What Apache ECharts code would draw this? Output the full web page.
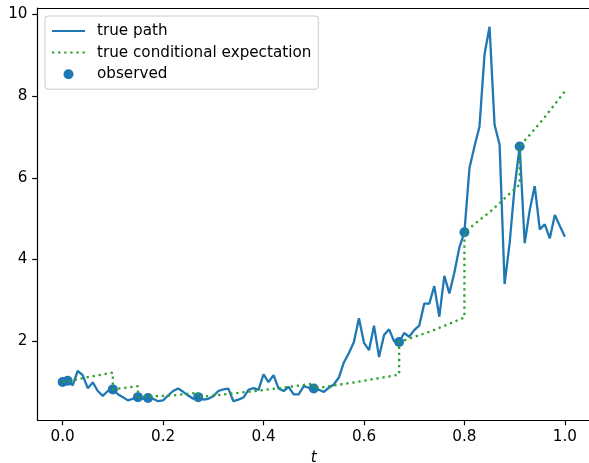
<!DOCTYPE html>
<html>
<head>
<meta charset="utf-8">
<script src="https://cdn.jsdelivr.net/npm/echarts@6/dist/echarts.min.js"></script>
<style>
html,body{margin:0;padding:0;background:#fff;overflow:hidden;}
#chart{width:640px;height:463px;}
</style>
</head>
<body>
<div id="chart"></div>
<script>
// time grid of the true path (step 0.01)
const pathT = [];
for (let i = 0; i <= 100; i++) pathT.push(+(i / 100).toFixed(2));
const pathV = [
  1.00, 1.03, 0.92, 1.27, 1.17, 0.85, 0.99, 0.78, 0.66, 0.78,
  0.82, 0.70, 0.63, 0.55, 0.59, 0.63, 0.59, 0.61, 0.59, 0.53,
  0.55, 0.67, 0.78, 0.84, 0.76, 0.67, 0.59, 0.63, 0.57, 0.59,
  0.65, 0.78, 0.82, 0.84, 0.53, 0.57, 0.62, 0.81, 0.85, 0.81,
  1.19, 1.00, 1.17, 0.84, 0.78, 0.88, 0.70, 0.70, 0.90, 0.86,
  0.84, 0.81, 0.76, 0.86, 0.94, 1.11, 1.48, 1.71, 1.98, 2.56,
  1.96, 1.78, 2.38, 1.61, 2.15, 2.29, 2.00, 1.98, 2.20, 2.11,
  2.27, 2.38, 2.92, 2.92, 3.35, 2.60, 3.60, 3.17, 3.68, 4.30,
  4.67, 6.24, 6.77, 7.26, 9.02, 9.70, 7.30, 6.81, 3.40, 4.40,
  5.79, 6.77, 4.40, 5.21, 5.80, 4.74, 4.86, 4.52, 5.09, 4.82,
  4.56
];
const obsT = [0, 0.01, 0.10, 0.15, 0.17, 0.27, 0.50, 0.67, 0.80, 0.91];
const obsV = [1.00, 1.03, 0.82, 0.63, 0.61, 0.63, 0.84, 1.98, 4.67, 6.77];
const expT = [0, 0.01, 0.01, 0.055, 0.10, 0.10, 0.15, 0.15, 0.17, 0.17, 0.22, 0.27, 0.27, 0.385, 0.50, 0.50, 0.585, 0.67, 0.67, 0.735, 0.80, 0.80, 0.855, 0.91, 0.91, 0.955, 1.00];
const expV = [1.00, 1.02, 1.03, 1.13, 1.23, 0.82, 0.90, 0.63, 0.65, 0.61, 0.67, 0.74, 0.63, 0.78, 0.96, 0.84, 1.00, 1.18, 1.98, 2.25, 2.58, 4.67, 5.21, 5.84, 6.77, 7.41, 8.12];
const xTicks = [0, 0.2, 0.4, 0.6, 0.8, 1.0];
const yTicks = [2, 4, 6, 8, 10];
const names = ['true path', 'true conditional expectation', 'observed'];

const zip = (a, b) => a.map((v, i) => [v, b[i]]);
const FONT = 'DejaVu Sans';
const FS = 15.2;
const hidden = {color: 'rgba(0,0,0,0)', borderColor: 'rgba(0,0,0,0)', borderWidth: 0, opacity: 0};
const chart = echarts.init(document.getElementById('chart'), null, {renderer: 'canvas'});
chart.setOption({
  animation: false,
  backgroundColor: '#ffffff',
  grid: {left: 37.5, top: 8, width: 552.5, height: 412, containLabel: false, outerBoundsMode: 'none', show: false},
  xAxis: [{
    type: 'value', min: -0.05, max: 1.05,
    name: 't', nameLocation: 'middle', nameGap: 31,
    nameTextStyle: {fontFamily: FONT, fontSize: FS, fontStyle: 'italic', color: '#000'},
    axisLine: {show: true, onZero: false, lineStyle: {color: '#000', width: 1.2}},
    axisTick: {show: true, length: 5.3, lineStyle: {color: '#000', width: 1.2}, customValues: xTicks},
    axisLabel: {fontFamily: FONT, fontSize: FS, color: '#000', margin: 10, customValues: xTicks, formatter: v => v.toFixed(1)},
    splitLine: {show: false}
  }, {
    type: 'value', position: 'top', min: -0.05, max: 1.05,
    axisLine: {show: true, onZero: false, lineStyle: {color: '#000', width: 1.2}},
    axisTick: {show: false}, axisLabel: {show: false}, splitLine: {show: false}
  }],
  yAxis: {
    type: 'value', min: 0.07, max: 10.16,
    axisLine: {show: true, onZero: false, lineStyle: {color: '#000', width: 1.2}},
    axisTick: {show: true, length: 5.3, lineStyle: {color: '#000', width: 1.2}, customValues: yTicks},
    axisLabel: {fontFamily: FONT, fontSize: FS, color: '#000', margin: 10, customValues: yTicks, formatter: v => String(Math.round(v))},
    splitLine: {show: false}
  },
  legend: {
    data: [
      {name: names[0], itemStyle: hidden},
      {name: names[1], itemStyle: hidden},
      {name: names[2]}
    ],
    orient: 'vertical', left: 45, top: 16,
    padding: [7, 7, 7, 6],
    itemGap: 5.6, itemWidth: 33, itemHeight: 10,
    backgroundColor: '#fff', borderColor: '#cccccc', borderWidth: 1, borderRadius: 3,
    textStyle: {fontFamily: FONT, fontSize: FS, color: '#000', lineHeight: 16, padding: [0, 0, 0, 7]},
    selectedMode: false
  },
  series: [
    {
      name: names[0], type: 'line', data: zip(pathT, pathV), showSymbol: false, symbol: 'none',
      lineStyle: {color: '#1f77b4', width: 2.3}, itemStyle: {color: '#1f77b4'}, z: 3
    },
    {
      name: names[1], type: 'line', data: zip(expT, expV), showSymbol: false, symbol: 'none',
      lineStyle: {color: '#2ca02c', width: 2.3, type: [2.3, 3.8], cap: 'butt'}, itemStyle: {color: '#2ca02c'}, z: 4
    },
    {
      name: names[2], type: 'scatter', data: zip(obsT, obsV), symbol: 'circle', symbolSize: 10,
      itemStyle: {color: '#1f77b4', opacity: 1}, z: 2
    }
  ]
});
</script>
</body>
</html>
